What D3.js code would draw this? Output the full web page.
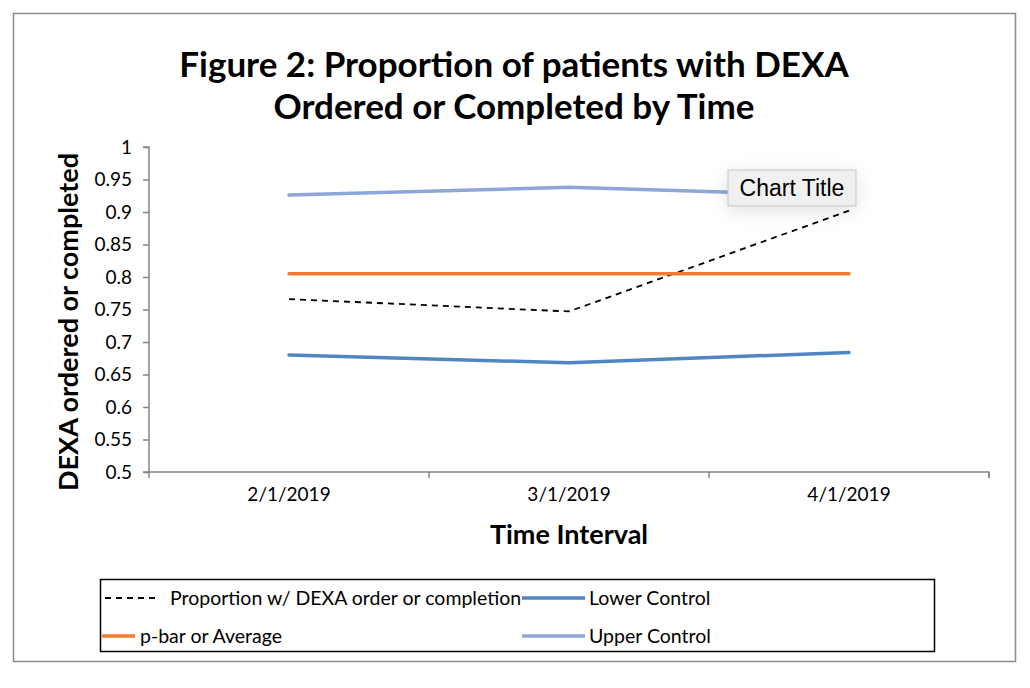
<!DOCTYPE html>
<html>
<head>
<meta charset="utf-8">
<script src="https://cdn.jsdelivr.net/npm/d3@7"></script>
<style>
    body { margin: 0; background: #fff; }
    svg text { font-family: Lato, "Open Sans", sans-serif; fill: #000; }
    .axis path, .axis line { stroke: #868686; stroke-width: 1.5; }
    .axis text { font-size: 19px; }
</style>
</head>
<body>
<svg id="chart" width="1030" height="688"></svg>
<script>
// data
var dates = ["2/1/2019", "3/1/2019", "4/1/2019"];
var proportion = [0.766, 0.747, 0.902];
var lowerControl = [0.680, 0.668, 0.684];
var pBar = [0.805, 0.805, 0.805];
var upperControl = [0.926, 0.938, 0.925];
var yTickValues = [0.5, 0.55, 0.6, 0.65, 0.7, 0.75, 0.8, 0.85, 0.9, 0.95, 1];

var series = [
    {key: "Proportion w/ DEXA order or completion", values: proportion, color: "#000", width: 1.8, dash: "6,5"},
    {key: "Lower Control", values: lowerControl, color: "#4F86C1", width: 3.5},
    {key: "p-bar or Average", values: pBar, color: "#EE7D31", width: 3.5},
    {key: "Upper Control", values: upperControl, color: "#8EA7DA", width: 3.5}
];

var svg = d3.select("#chart");

// outer chart border
svg.append("rect")
    .attr("x", 13.5).attr("y", 13.5)
    .attr("width", 1002).attr("height", 648)
    .attr("fill", "#fff")
    .attr("stroke", "#8c8c8c")
    .attr("stroke-width", 1.5);

var margin = {top: 147, left: 149},
    width = 840,
    height = 325,
    g = svg.append("g").attr("transform", "translate(" + margin.left + "," + margin.top + ")");

var x = d3.scaleBand().domain(dates).range([0, width]);
var y = d3.scaleLinear().domain([0.5, 1]).range([height, 0]);

var yAxis = d3.axisLeft(y)
    .tickValues(yTickValues)
    .tickFormat(function(d) { return String(+d.toFixed(2)); })
    .tickSizeInner(6)
    .tickSizeOuter(6)
    .tickPadding(11);

var xAxis = d3.axisBottom(x)
    .tickSize(0)
    .tickPadding(16);

g.append("g")
    .attr("class", "axis axis--y")
    .call(yAxis)
    .call(function(s) { s.select(".domain").attr("d", "M-6,0H0V" + height + "H-6"); });

var xg = g.append("g")
    .attr("class", "axis axis--x")
    .attr("transform", "translate(0," + height + ")")
    .call(xAxis);
xg.select(".domain").attr("d", "M0,0V6V0H" + width + "V6");
// category boundary ticks
xg.selectAll("line.bound")
    .data(dates)
    .enter()
    .append("line")
    .attr("class", "bound")
    .attr("x1", function(d) { return x(d) + x.bandwidth(); })
    .attr("x2", function(d) { return x(d) + x.bandwidth(); })
    .attr("y1", 0).attr("y2", 6);

var line = d3.line()
    .x(function(d, i) { return x(dates[i]) + x.bandwidth() / 2; })
    .y(function(d) { return y(d); });

g.selectAll("path.series")
    .data(series)
    .enter()
    .append("path")
    .attr("class", "series")
    .attr("fill", "none")
    .attr("stroke", function(d) { return d.color; })
    .attr("stroke-width", function(d) { return d.width; })
    .attr("stroke-dasharray", function(d) { return d.dash || null; })
    .attr("stroke-linecap", function(d) { return d.dash ? "butt" : "round"; })
    .attr("d", function(d) { return line(d.values); });

// titles
var title = svg.append("text")
    .attr("text-anchor", "middle")
    .attr("font-weight", "bold")
    .attr("font-size", 35);
title.append("tspan").attr("x", 514).attr("y", 77).text("Figure 2: Proportion of patients with DEXA");
title.append("tspan").attr("x", 514).attr("y", 119).text("Ordered or Completed by Time");

svg.append("text")
    .attr("transform", "translate(78,322) rotate(-90)")
    .attr("text-anchor", "middle")
    .attr("font-weight", "bold")
    .attr("font-size", 27)
    .text("DEXA ordered or completed");

svg.append("text")
    .attr("x", margin.left + width / 2)
    .attr("y", 544)
    .attr("text-anchor", "middle")
    .attr("font-weight", "bold")
    .attr("font-size", 27)
    .text("Time Interval");

// legend
var legend = svg.append("g");
legend.append("rect")
    .attr("x", 100.5).attr("y", 579.5)
    .attr("width", 834).attr("height", 72)
    .attr("fill", "#fff")
    .attr("stroke", "#000")
    .attr("stroke-width", 1.5);

var legendPos = [
    {x1: 105, x2: 160, tx: 170, y: 598},
    {x1: 522, x2: 585, tx: 589, y: 598},
    {x1: 102, x2: 135, tx: 140, y: 636},
    {x1: 522, x2: 585, tx: 589, y: 636}
];

var item = legend.selectAll("g.item")
    .data(series)
    .enter()
    .append("g")
    .attr("class", "item");

item.append("line")
    .attr("x1", function(d, i) { return legendPos[i].x1; })
    .attr("x2", function(d, i) { return legendPos[i].x2; })
    .attr("y1", function(d, i) { return legendPos[i].y; })
    .attr("y2", function(d, i) { return legendPos[i].y; })
    .attr("stroke", function(d) { return d.color; })
    .attr("stroke-width", function(d) { return d.width; })
    .attr("stroke-dasharray", function(d) { return d.dash || null; });

item.append("text")
    .attr("x", function(d, i) { return legendPos[i].tx; })
    .attr("y", function(d, i) { return legendPos[i].y; })
    .attr("dy", "0.35em")
    .attr("font-size", 19.5)
    .text(function(d) { return d.key; });

// hover tooltip seen in the screenshot
var defs = svg.append("defs");
var f = defs.append("filter").attr("id", "shadow").attr("x", "-50%").attr("y", "-80%").attr("width", "200%").attr("height", "260%");
f.append("feDropShadow").attr("dx", 0).attr("dy", 4).attr("stdDeviation", 9).attr("flood-color", "#000").attr("flood-opacity", 0.12);

var tip = svg.append("g").attr("transform", "translate(728,170)");
tip.append("rect")
    .attr("width", 128).attr("height", 36)
    .attr("fill", "#f0f0f0")
    .attr("stroke", "#c4c4c4")
    .attr("filter", "url(#shadow)");
tip.append("text")
    .attr("x", 64).attr("y", 18)
    .attr("dy", "0.35em")
    .attr("text-anchor", "middle")
    .attr("font-size", 23)
    .style("font-family", "'Liberation Sans', Arial, sans-serif")
    .text("Chart Title");
</script>
</body>
</html>
